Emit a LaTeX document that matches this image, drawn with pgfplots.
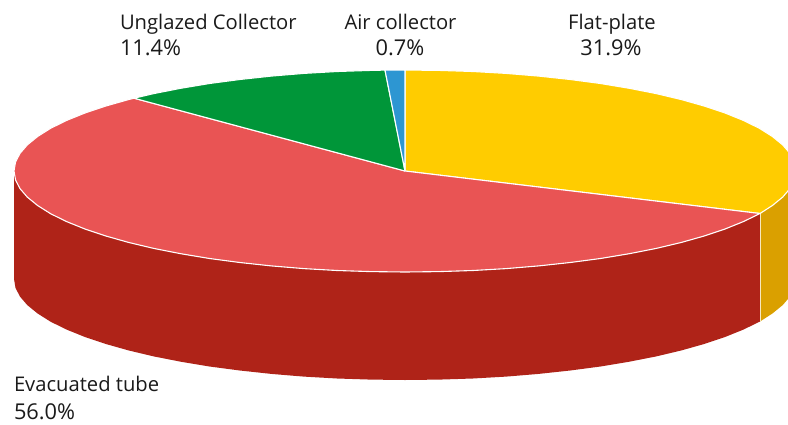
\documentclass[border=0pt]{standalone}
\usepackage{pgfplots}
\pgfplotsset{compat=1.18}
\usepackage{fontspec}
\setmainfont{Open Sans}
\definecolor{cyellow}{HTML}{FFCC00}
\definecolor{cgold}{HTML}{DAA000}
\definecolor{cred}{HTML}{E95454}
\definecolor{cdark}{HTML}{AF2318}
\definecolor{cgreen}{HTML}{009639}
\definecolor{cblue}{HTML}{2D96D2}
\definecolor{ctext}{HTML}{1A1A1A}
\tikzset{lbl/.style={font=\fontsize{20.2}{22}\selectfont, text=ctext, inner sep=0pt, outer sep=0pt},
         pct/.style={font=\fontsize{21.8}{24}\selectfont, text=ctext, inner sep=0pt, outer sep=0pt}}
\begin{document}
\begin{tikzpicture}
\useasboundingbox (0,0) rectangle (788pt,424pt);
\begin{axis}[
  at={(0,0)}, anchor=south west,
  scale only axis, width=788pt, height=424pt,
  xmin=0, xmax=788, ymin=0, ymax=424, y dir=reverse,
  axis lines=none, clip=true,
]
% side wall: evacuated tube
\addplot[fill=cdark, draw=none] coordinates {
(14,171)(15.5,179.8)(19.9,188.5)(27.3,197.1)(37.6,205.5)(50.6,213.7)(66.4,221.5)(84.7,228.9)(105.5,235.9)(128.5,242.4)(153.7,248.4)(180.7,253.7)(209.5,258.5)(239.8,262.5)(271.3,265.9)(303.8,268.6)(337.1,270.5)(370.9,271.6)(405,272)(439.1,271.6)(472.9,270.5)(506.2,268.6)(538.7,265.9)(570.2,262.5)(600.5,258.5)(629.3,253.7)(656.3,248.4)(681.5,242.4)(704.5,235.9)(725.3,228.9)(743.6,221.5)(760,213.5)
(760,321.5)(743.6,329.5)(725.3,336.9)(704.5,343.9)(681.5,350.4)(656.3,356.4)(629.3,361.7)(600.5,366.5)(570.2,370.5)(538.7,373.9)(506.2,376.6)(472.9,378.5)(439.1,379.6)(405,380)(370.9,379.6)(337.1,378.5)(303.8,376.6)(271.3,373.9)(239.8,370.5)(209.5,366.5)(180.7,361.7)(153.7,356.4)(128.5,350.4)(105.5,343.9)(84.7,336.9)(66.4,329.5)(50.6,321.7)(37.6,313.5)(27.3,305.1)(19.9,296.5)(15.5,287.8)(14,279)(14,171)};
% side wall: flat-plate
\addplot[fill=cgold, draw=none] coordinates {
(760,213.5)(772.4,205.5)(782.7,197.1)(790.1,188.5)(794.5,179.8)(796,171)
(796,279)(794.5,287.8)(790.1,296.5)(782.7,305.1)(772.4,313.5)(760,321.5)(760,213.5)};
% edge between the two walls
\addplot[draw=white!75!cgold, line width=1pt] coordinates {(760,213.5)(760,321.5)};
% top: flat-plate
\addplot[fill=cyellow, draw=white, line width=1.1pt, line join=round] coordinates {
(405,171)(405,70)(439.1,70.4)(472.9,71.5)(506.2,73.4)(538.7,76.1)(570.2,79.5)(600.5,83.5)(629.3,88.3)(656.3,93.6)(681.5,99.6)(704.5,106.1)(725.3,113.1)(743.6,120.5)(759.4,128.3)(772.4,136.5)(782.7,144.9)(790.1,153.5)(794.5,162.2)(796,171)(794.5,179.8)(790.1,188.5)(782.7,197.1)(772.4,205.5)(760,213.5)(405,171)};
% top: evacuated tube
\addplot[fill=cred, draw=white, line width=1.1pt, line join=round] coordinates {
(405,171)(760,213.5)(743.6,221.5)(725.3,228.9)(704.5,235.9)(681.5,242.4)(656.3,248.4)(629.3,253.7)(600.5,258.5)(570.2,262.5)(538.7,265.9)(506.2,268.6)(472.9,270.5)(439.1,271.6)(405,272)(370.9,271.6)(337.1,270.5)(303.8,268.6)(271.3,265.9)(239.8,262.5)(209.5,258.5)(180.7,253.7)(153.7,248.4)(128.5,242.4)(105.5,235.9)(84.7,228.9)(66.4,221.5)(50.6,213.7)(37.6,205.5)(27.3,197.1)(19.9,188.5)(15.5,179.8)(14,171)(15.5,162.2)(19.9,153.5)(27.3,144.9)(37.6,136.5)(50.6,128.3)(66.4,120.5)(84.7,113.1)(105.5,106.1)(128.5,99.6)(134,98.2)(405,171)};
% top: unglazed collector
\addplot[fill=cgreen, draw=white, line width=1.1pt, line join=round] coordinates {
(405,171)(134,98.2)(153.7,93.6)(180.7,88.3)(209.5,83.5)(239.8,79.5)(271.3,76.1)(303.8,73.4)(337.1,71.5)(370.9,70.4)(385,70.1)(405,171)};
% top: air collector
\addplot[fill=cblue, draw=white, line width=1.1pt, line join=round] coordinates {
(405,171)(385,70.1)(405,70)(405,171)};
\node[lbl,anchor=base west] at (axis cs:120,29) {Unglazed Collector};
\node[pct,anchor=base west] at (axis cs:120,55) {11.4\%};
\node[lbl,anchor=base] at (axis cs:400.5,29) {Air collector};
\node[pct,anchor=base] at (axis cs:400,55) {0.7\%};
\node[lbl,anchor=base] at (axis cs:612,29) {Flat-plate};
\node[pct,anchor=base] at (axis cs:611,55) {31.9\%};
\node[lbl,anchor=base west] at (axis cs:14,391) {Evacuated tube};
\node[pct,anchor=base west] at (axis cs:14,419) {56.0\%};
\end{axis}
\end{tikzpicture}
\end{document}
